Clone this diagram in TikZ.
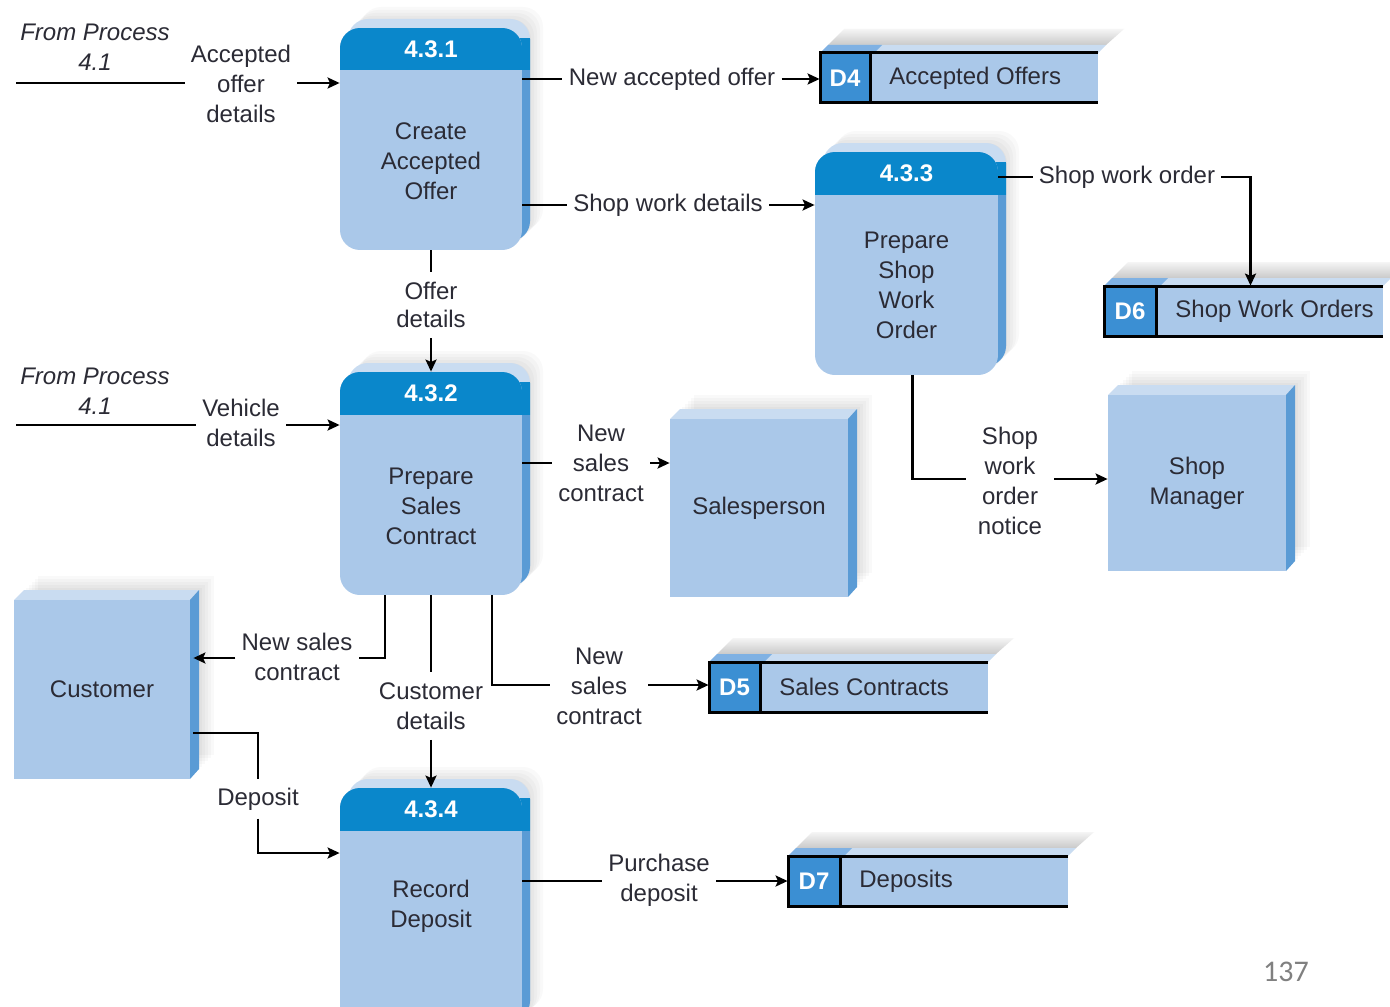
\documentclass[tikz,border=0pt]{standalone}
\usepackage{fontspec}
\setmainfont{Liberation Sans}
\newfontfamily\pagefont{Carlito}
\usetikzlibrary{fit,arrows.meta,calc}
\definecolor{pbody}{HTML}{AAC8E9}
\definecolor{phead}{HTML}{0A87CB}
\definecolor{pside}{HTML}{5A9BD5}
\definecolor{ptop}{HTML}{C9DCF1}
\definecolor{dbox}{HTML}{3B8FD3}
\definecolor{dtop}{HTML}{7FB1E3}
\definecolor{txt}{HTML}{2B2B35}
\tikzset{
  ptext/.style={font=\fontsize{12}{15}\selectfont, align=center, text=txt, inner sep=3pt},
  itext/.style={font=\fontsize{12}{15}\selectfont\itshape, align=center, text=txt, inner sep=3pt},
  numtext/.style={font=\fontsize{12}{15}\selectfont\bfseries, text=white, inner sep=0pt},
  boxfit/.style={inner sep=0pt, draw=none},
  flowln/.style={line width=1.35pt, draw=black},
  flowar/.style={line width=1.35pt, draw=black, -{Stealth[length=6pt,width=5.5pt,inset=1.2pt]}},
  storeln/.style={line width=1.5pt, draw=black},
  softshade/.style={fill=black, opacity=0.022},
}
% process box: name x1 y1 x2 y2 yheader number text ytext
\newcommand\procbox[9]{%
  \foreach \k in {1,...,7}{%
    \fill[softshade, rounded corners=10pt] ({#2+3*\k},{#3-3*\k}) rectangle ({#4+3*\k},{#5-3*\k});
  }
  \fill[ptop, rounded corners=10pt] ({#2+8},{#3-9}) rectangle ({#4+8},{#5-9});
  \begin{scope}
    \clip[rounded corners=10pt] ({#2+8},{#3-9}) rectangle ({#4+8},{#5-9});
    \fill[pside] ({#4-20},{#6}) rectangle ({#4+10},{#5});
    \fill[phead] ({#4-20},{#3+10}) rectangle ({#4+10},{#6});
  \end{scope}
  \begin{scope}
    \clip[rounded corners=10pt] (#2,#3) rectangle (#4,#5);
    \fill[pbody] (#2,#3) rectangle (#4,#5);
    \fill[phead] (#2,#3) rectangle (#4,#6);
  \end{scope}
  \node[boxfit, fit={(#2,#3) (#4,#5)}] (#1) {};
  \node[numtext] (#1-num) at ({(#2+#4)/2},{(#3+#6)/2}) {#7};
  \node[ptext] (#1-txt) at ({(#2+#4)/2},#9) {#8};
}
% data store: name x1 y1 x2 y2 xdivider id label
\newcommand\dstore[8]{%
  \shade[top color=gray!8, bottom color=gray!42] ({#2+8},{#3-8}) -- ({#2+24},{#3-24}) -- ({#4+26},{#3-24}) -- ({#4+8},{#3-8}) -- cycle;
  \fill[ptop] (#2,#3) -- ({#2+8},{#3-8}) -- ({#4+8},{#3-8}) -- (#4,#3) -- cycle;
  \fill[dtop] (#2,#3) -- ({#2+8},{#3-8}) -- ({#6+12},{#3-8}) -- ({#6+4},#3) -- cycle;
  \fill[pbody] (#2,#3) rectangle (#4,#5);
  \fill[dbox] (#2,#3) rectangle (#6,#5);
  \draw[storeln] (#4,#3) -- (#2,#3) -- (#2,#5) -- (#4,#5);
  \draw[storeln] (#6,#3) -- (#6,#5);
  \node[boxfit, fit={(#2,#3) (#4,#5)}] (#1) {};
  \node[numtext] (#1-id) at ({(#2+#6)/2},{(#3+#5)/2}) {#7};
  \node[ptext, anchor=west] (#1-txt) at ({#6+13},{(#3+#5)/2}) {#8};
}
% external entity: name x1 y1 x2 y2 text
\newcommand\entitybox[6]{%
  \foreach \k in {1,...,8}{%
    \fill[softshade] ({#2+3*\k},{#3-3*\k}) rectangle ({#4+3*\k},{#5-3*\k});
  }
  \fill[ptop] (#2,#3) -- ({#2+10},{#3-10}) -- ({#4+9},{#3-10}) -- (#4,#3) -- cycle;
  \fill[pside] (#4,#3) -- ({#4+9},{#3-10}) -- ({#4+9},{#5-10}) -- (#4,#5) -- cycle;
  \fill[pbody] (#2,#3) rectangle (#4,#5);
  \node[boxfit, fit={(#2,#3) (#4,#5)}] (#1) {};
  \node[ptext] (#1-txt) at (#1.center) {#6};
}
\begin{document}
\begin{tikzpicture}[x=0.5pt, y=-0.5pt]
\useasboundingbox (0,0) rectangle (1390,1006);
\clip (0,0) rectangle (1390,1006);
\fill[white] (0,0) rectangle (1390,1006);

% processes
\procbox{p431}{340}{28}{522}{250}{70}{4.3.1}{Create\\Accepted\\Offer}{161}
\procbox{p433}{815}{152}{998}{375}{195}{4.3.3}{Prepare\\Shop\\Work\\Order}{285}
\procbox{p432}{340}{372}{522}{595}{415}{4.3.2}{Prepare\\Sales\\Contract}{506}
\procbox{p434}{340}{788}{522}{1030}{831}{4.3.4}{Record\\Deposit}{906}

% data stores
\dstore{d4}{820}{53}{1098}{103}{870}{D4}{Accepted Offers}
\dstore{d6}{1104}{286}{1383}{336}{1156}{D6}{Shop Work Orders}
\dstore{d5}{709}{662}{988}{712}{760}{D5}{Sales Contracts}
\dstore{d7}{788}{856}{1068}{906}{840}{D7}{Deposits}

% external entities
\entitybox{sales}{670}{419}{848}{597}{Salesperson}
\entitybox{mgr}{1108}{395}{1286}{571}{Shop\\Manager}
\entitybox{cust}{14}{600}{190}{779}{Customer}

% labels
\node[itext] (fp1) at (95,47) {From Process\\4.1};
\node[itext] (fp2) at (95,391) {From Process\\4.1};
\node[ptext] (la) at (241,84) {Accepted\\offer\\details};
\node[ptext] (lb) at (672,79) {New accepted offer};
\node[ptext] (lc) at (668,205) {Shop work details};
\node[ptext, font=\fontsize{12}{14}\selectfont, inner sep=5pt] (ld) at (431,305) {Offer\\details};
\node[ptext] (le) at (1127,177) {Shop work order};
\node[ptext] (lf) at (241,423) {Vehicle\\details};
\node[ptext] (lg) at (601,463) {New\\sales\\contract};
\node[ptext, inner sep=6pt] (lh) at (1010,481) {Shop\\work\\order\\notice};
\node[ptext] (li) at (297,657) {New sales\\contract};
\node[ptext, inner sep=5pt] (lj) at (431,706) {Customer\\details};
\node[ptext] (lk) at (599,686) {New\\sales\\contract};
\node[ptext, inner sep=4pt] (ll) at (258,799) {Deposit};
\node[ptext] (lm) at (659,880) {Purchase\\deposit};
\node[font=\pagefont\fontsize{15}{18}\selectfont, text=gray] (pg) at (1286,972) {137};

% free ends
\coordinate (a0) at (16,83);
\coordinate (f0) at (16,425);
\coordinate (ya) at (0,83);
\coordinate (yf) at (0,425);
\coordinate (yh) at (0,479);
\coordinate (yi) at (0,658);
\coordinate (yk) at (0,685);
\coordinate (yl) at (0,733);
\coordinate (yl2) at (0,853);
\coordinate (ym) at (0,881);

% flows
\draw[flowln] (a0) -- (la.west |- ya);
\draw[flowar] (la.east |- ya) -- (p431.west |- ya);

\draw[flowln] (p431.east |- lb) -- (lb.west);
\draw[flowar] (lb.east) -- (d4.west |- lb);

\draw[flowln] (p431.east |- lc) -- (lc.west);
\draw[flowar] (lc.east) -- (p433.west |- lc);

\draw[flowln] (p431.south -| ld) -- (ld.north);
\draw[flowar] (ld.south) -- (p432.north -| ld);

\draw[flowln] (p433.east |- le) -- (le.west);
\draw[flowar] (le.east) -| ([xshift=3.5pt]d6.north);

\draw[flowln] (f0) -- (lf.west |- yf);
\draw[flowar] (lf.east |- yf) -- (p432.west |- yf);

\draw[flowln] (p432.east |- lg) -- (lg.west);
\draw[flowar] (lg.east) -- (sales.west |- lg);

\draw[flowln] ([xshift=3pt]p433.south) |- (lh.west |- yh);
\draw[flowar] (lh.east |- yh) -- (mgr.west |- yh);

\draw[flowln] ([xshift=-23pt]p432.south) |- (li.east |- yi);
\draw[flowar] (li.west |- yi) -- ([xshift=1.5pt]cust.east |- yi);

\draw[flowln] (p432.south -| lj) -- (lj.north);
\draw[flowar] (lj.south) -- (p434.north -| lj);

\draw[flowln] ([xshift=30.5pt]p432.south) |- (lk.west |- yk);
\draw[flowar] (lk.east |- yk) -- (d5.west |- yk);

\draw[flowln] ([xshift=1.5pt]cust.east |- yl) -| (ll.north);
\draw[flowar] (ll.south) |- (p434.west |- yl2);

\draw[flowln] (p434.east |- ym) -- (lm.west |- ym);
\draw[flowar] (lm.east |- ym) -- (d7.west |- ym);
\end{tikzpicture}
\end{document}
